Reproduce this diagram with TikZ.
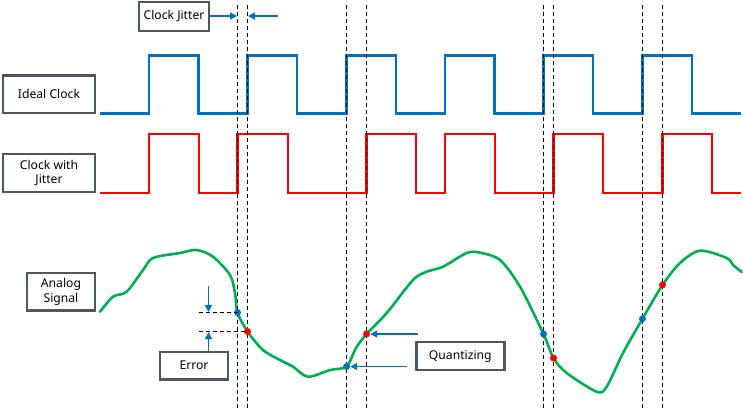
\documentclass[tikz,border=0pt]{standalone}
\usepackage{fontspec}
\setmainfont{Noto Sans}
\usetikzlibrary{arrows.meta}
\definecolor{boxgray}{HTML}{4E5563}
\definecolor{clkblue}{HTML}{0070C0}
\definecolor{clkred}{HTML}{FF0000}
\definecolor{siggreen}{HTML}{00B050}
\begin{document}
\begin{tikzpicture}[x=1bp,y=-1bp,
  labelbox/.style={draw=boxgray, line width=2.4bp, fill=white, align=center,
    font=\fontsize{12.2}{14.4}\selectfont, inner sep=0pt},
  idealclk/.style={draw=clkblue, line width=2.1bp},
  jitclk/.style={draw=clkred, line width=2.1bp},
  sampleline/.style={draw=black, line width=1.6bp, dash pattern=on 4bp off 3bp},
  errline/.style={draw=black, line width=1.6bp, dash pattern=on 4bp off 3bp},
  bluearrow/.style={draw=clkblue, line width=1.6bp, -{Triangle[length=7bp,width=7bp]}},
  signal/.style={draw=siggreen, line width=2.6bp, line cap=round, line join=round},
  bluedot/.style={circle, fill=clkblue, inner sep=0pt, minimum size=7bp},
  reddot/.style={circle, fill=clkred, inner sep=0pt, minimum size=7bp}]
\useasboundingbox (0,0) rectangle (743,411);

% label boxes
\node[labelbox, minimum width=69.5bp, minimum height=28.5bp] (cj) at (174,16.5) {Clock Jitter};
\node[labelbox, minimum width=91.5bp, minimum height=37.5bp] (ic) at (49,94.3) {Ideal Clock};
\node[labelbox, minimum width=91.5bp, minimum height=37.5bp] (cwj) at (49,173) {Clock with\\Jitter};
\node[labelbox, minimum width=67.5bp, minimum height=37.5bp] (as) at (61,291.7) {Analog\\Signal};
\node[labelbox, minimum width=67.5bp, minimum height=27.5bp] (err) at (194,365.7) {Error};
\node[labelbox, minimum width=88bp, minimum height=27.5bp] (qz) at (460.3,356) {Quantizing};

% ideal clock
\draw[idealclk] (100,113.5) -| (149,55.5) -| (198.5,113.5) -| (247.5,55.5) -| (297,113.5)
  -| (346.5,55.5) -| (396,113.5) -| (445,55.5) -| (494.5,113.5) -| (543.5,55.5) -| (593.3,113.5)
  -| (642.5,55.5) -| (692,113.5) -- (741,113.5);

% clock with jitter
\draw[jitclk] (100,193) -| (149,134) -| (199,193) -| (237.5,134) -| (288,193)
  -| (366.5,134) -| (415.7,193) -| (445.3,134) -| (494.7,193) -| (553.5,134)
  -| (603,193) -| (662.5,134) -| (712.3,193) -- (741,193);

% analog signal
\draw[signal] plot[smooth, tension=0.5] coordinates {
  (100,311.7) (113,296.7) (126.7,291.7) (143,270) (153,258) (180,253) (196.7,250)
  (213,256.7) (230,275) (235,293) (237.5,312.5) (247.5,331.5) (263,350) (280,360)
  (293,366.7) (308,376.7) (330,370) (346.5,366.5) (356,348) (366.5,334) (386.7,313)
  (413,280) (426.7,271.7) (443,266.7) (466.7,253) (480,252.7) (500,260) (520,286.7)
  (543.5,334) (553.5,358) (566.7,373) (596.7,391.7) (606.7,386.7) (623,353) (642.5,318.7)
  (662.5,285) (680,263) (700,250.7) (726.7,258) (733,265) (741.7,272)};

% sampling instants (dashed)
\foreach \n/\x in {a/237.5,b/247.5,c/346.5,d/366.5,e/543.5,f/553.5,g/642.5,h/662.5}{
  \coordinate (top\n) at (\x,5);
  \coordinate (bot\n) at (\x,411);
  \draw[sampleline] (top\n) -- (bot\n);
}

% sample points
\node[bluedot] (b1) at (237.5,312.5) {};
\node[reddot]  (r1) at (247.5,331.5) {};
\node[bluedot] (b2) at (346.5,366.5) {};
\node[reddot]  (r2) at (366.5,334) {};
\node[bluedot] (b3) at (543.5,334) {};
\node[reddot]  (r3) at (553.5,358) {};
\node[bluedot] (b4) at (642.5,318.7) {};
\node[reddot]  (r4) at (662.5,285) {};

% error markers
\coordinate (e1) at (198.7,312.5);
\coordinate (e2) at (198.7,331.5);
\draw[errline] (e1) -- (b1.center);
\draw[errline] (e2) -- (r1.center);
\coordinate (ea) at (208.5,286);
\coordinate (eat) at (208.5,312);
\coordinate (ebt) at (208.5,332);
\draw[bluearrow] (ea) -- (eat);
\draw[bluearrow] (err.north -| ebt) -- (ebt);

% clock jitter arrows
\coordinate (cjt) at (237,16);
\coordinate (cjs) at (278,16);
\coordinate (cje) at (248,16);
\draw[bluearrow] (cj.east |- cjt) -- (cjt);
\draw[bluearrow] (cjs) -- (cje);

% quantizing arrows
\coordinate (q1) at (417.7,334);
\coordinate (q2) at (406.7,366.5);
\draw[bluearrow] (q1) -- (r2.east);
\draw[bluearrow] (q2) -- (b2.east);
\end{tikzpicture}
\end{document}
